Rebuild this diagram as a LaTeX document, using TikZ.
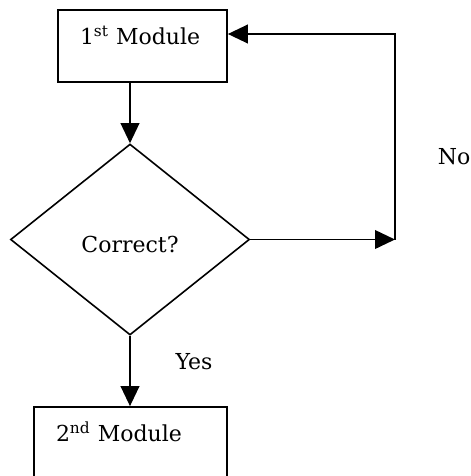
\documentclass[tikz,border=0pt]{standalone}
\usepackage{fontspec}
\setmainfont{DejaVu Serif}
\usetikzlibrary{arrows.meta, shapes.geometric}

\begin{document}
\begin{tikzpicture}[
  x=0.75pt, y=-0.75pt,
  font=\fontsize{16.5pt}{20pt}\selectfont,
  box/.style={rectangle, draw, line width=1.3pt, text width=#1,
              inner xsep=16.5pt, inner ysep=0pt, align=left,
              text height=26pt, text depth=28pt},
  decision/.style={diamond, draw, line width=1.2pt, inner sep=0pt,
                   text height=20pt, text depth=0pt,
                   minimum width=179.25pt, minimum height=143.25pt},
  arr/.style={-{Triangle[length=15pt, width=14pt]}, line width=1.3pt},
  lbl/.style={inner sep=0pt}
]
\path[use as bounding box, clip] (0,0) rectangle (471,476);

\node[box=93.75pt]  (first)  at (142.5,46)  {1\textsuperscript{st} Module};
\node[decision]     (check)  at (130,239.5) {Correct?};
\node[box=111.75pt] (second) at (130.5,443) {2\textsuperscript{nd} Module};

% loop back when the check fails
\coordinate (turn) at (395,239.5);
\coordinate (back) at (395,34);

\draw[arr] (first.south -| check.north) -- (check.north);
\draw[arr] (check.east) -- (turn);
\draw[arr] (turn) -- (back) -- (back -| first.east);
\draw[arr] (check.south) -- (second.north -| check.south);

\node[lbl] (no)  at (454,157) {No};
\node[lbl] (yes) at (194,362) {Yes};
\end{tikzpicture}
\end{document}
